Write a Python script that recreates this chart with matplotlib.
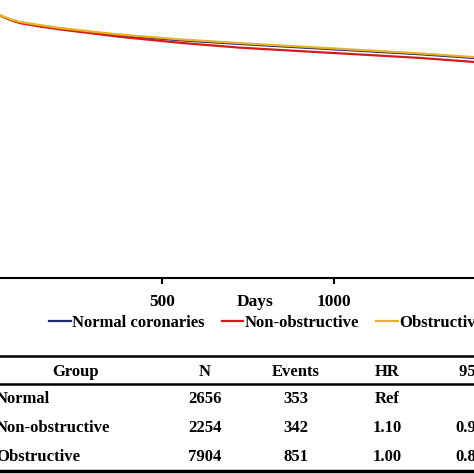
import matplotlib
matplotlib.use("Agg")
import matplotlib.pyplot as plt

plt.rcParams['font.family'] = ['Liberation Serif', 'DejaVu Serif']
plt.rcParams['font.weight'] = 'bold'

# Kaplan-Meier curves (days, survival)
days = [0, 15, 29, 58, 87, 145, 203, 291, 378, 552, 727, 901, 1076, 1250, 1407, 1500]
obstructive = [0.96, 0.935, 0.918, 0.905, 0.895, 0.884, 0.874, 0.862, 0.851,
               0.834, 0.821, 0.809, 0.797, 0.785, 0.772, 0.766]
normal = [0.96, 0.935, 0.917, 0.903, 0.893, 0.882, 0.872, 0.859, 0.848,
          0.831, 0.818, 0.806, 0.794, 0.782, 0.769, 0.763]
non_obstructive = [0.96, 0.935, 0.918, 0.903, 0.891, 0.879, 0.869, 0.856, 0.843,
                   0.822, 0.805, 0.793, 0.781, 0.769, 0.755, 0.747]

xticks = [500, 1000]
legend_labels = ['Normal coronaries', 'Non-obstructive', 'Obstructive']
colors = ['#1f2a6e', '#d7191c', '#eab221']

# table below the plot
col_names = ['Group', 'N', 'Events', 'HR', '95% CI']
groups = ['Normal', 'Non-obstructive', 'Obstructive']
n_vals = ['2656', '2254', '7904']
events = ['353', '342', '851']
hr = ['Ref', '1.10', '1.00']
ci = ['', '0.95-1.28', '0.88-1.14']

W = H = 474
fs = 12
fig = plt.figure(figsize=(4.74, 4.74), dpi=100)

# main axes (partly outside the cropped figure)
ax = fig.add_axes([-10 / W, 196.5 / H, 516 / W, 285.5 / H])
l1, = ax.plot(days, normal, color=colors[0], lw=1.6)
l2, = ax.plot(days, non_obstructive, color=colors[1], lw=1.6)
l3, = ax.plot(days, obstructive, color=colors[2], lw=1.6)
ax.set_xlim(0, 1500)
ax.set_ylim(0, 1.0)
for s in ['top', 'right', 'left']:
    ax.spines[s].set_visible(False)
ax.spines['bottom'].set_linewidth(1.5)
ax.set_yticks([])
ax.set_xticks(xticks)
ax.tick_params(axis='x', direction='out', length=4, width=1.5, pad=8, labelsize=12.5)
for t in ax.get_xticklabels():
    t.set_fontweight('bold')

fig.text(255 / W, 1 - 302 / H, 'Days', ha='center', va='center', fontsize=12.5, fontweight='bold')

leg = fig.legend([l1, l2, l3], legend_labels, loc='center left',
                 bbox_to_anchor=(49 / W, 1 - 323 / H), ncol=3, frameon=False,
                 handlelength=1.3, handletextpad=0.1, columnspacing=1.0,
                 borderpad=0, borderaxespad=0, prop={'size': fs, 'weight': 'bold'})

# table drawn in a pixel-coordinate axes
tax = fig.add_axes([0, 0, 1, 1], zorder=-1)
tax.set_xlim(0, W)
tax.set_ylim(H, 0)
tax.axis('off')

tax.plot([0, W], [355.5, 355.5], color='black', lw=1.8)
tax.plot([0, W], [383.5, 383.5], color='black', lw=1.8)
tax.plot([0, W], [471, 471], color='black', lw=2.5)

col_x = [76, 205, 296, 387, 487]
header_y = 371.5
row_y = [399, 428, 457]
for cx, name in zip(col_x, col_names):
    tax.text(cx, header_y, name, ha='center', va='center', fontsize=fs, fontweight='bold')
for i, ry in enumerate(row_y):
    tax.text(-4, ry, groups[i], ha='left', va='center', fontsize=fs, fontweight='bold')
    tax.text(col_x[1], ry, n_vals[i], ha='center', va='center', fontsize=fs, fontweight='bold')
    tax.text(col_x[2], ry, events[i], ha='center', va='center', fontsize=fs, fontweight='bold')
    tax.text(col_x[3], ry, hr[i], ha='center', va='center', fontsize=fs, fontweight='bold')
    tax.text(col_x[4], ry, ci[i], ha='center', va='center', fontsize=fs, fontweight='bold')

fig.savefig('out.png', dpi=100)
